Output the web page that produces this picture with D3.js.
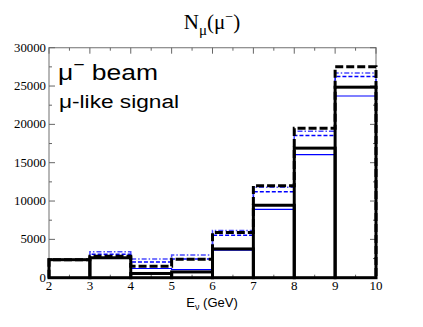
<!DOCTYPE html>
<html>
<head>
<meta charset="utf-8">
<script src="https://cdn.jsdelivr.net/npm/d3@7"></script>
<style>
  body { margin: 0; background: #fff; }
  svg { display: block; }
</style>
</head>
<body>
<div id="chart"></div>
<script>
const binEdges = [2, 3, 4, 5, 6, 7, 8, 9, 10];
const blackBars = [2350, 2600, 550, 750, 3750, 9450, 16900, 24850];
const blackDashed = [2350, 2800, 1500, 2400, 5900, 12000, 19500, 27500];
const blueDashDot = [2350, 3400, 2450, 2950, 6150, 11800, 19100, 26700];
const blueDashed = [2350, 3050, 2050, 2450, 5550, 11200, 18550, 26250];
const blueThin = [2350, 2600, 1200, 1050, 3600, 8900, 16050, 23700];
const xTicks = [2, 3, 4, 5, 6, 7, 8, 9, 10];
const yTicks = [0, 5000, 10000, 15000, 20000, 25000, 30000];

const W = 423, H = 327;
const Margin = { Top: 47.7, Bottom: 49.3, Left: 49, Right: 47 };

const svg = d3.select('#chart').append('svg')
  .attr('width', W)
  .attr('height', H);

const x = d3.scaleLinear().domain([2, 10]).range([Margin.Left, W - Margin.Right]);
const y = d3.scaleLinear().domain([0, 30000]).range([H - Margin.Bottom, Margin.Top]);

// frame + ticks
const frameColor = '#888';
svg.append('rect')
  .attr('x', x(2)).attr('y', y(30000))
  .attr('width', x(10) - x(2)).attr('height', y(0) - y(30000))
  .attr('fill', 'none').attr('stroke', frameColor).attr('stroke-width', 1.2);

const xMinor = d3.range(2.5, 10, 1);
const yMinor = d3.range(2500, 30000, 5000);
const tickG = svg.append('g').attr('stroke', '#666').attr('stroke-width', 1);
xTicks.forEach(t => {
  tickG.append('line').attr('x1', x(t)).attr('x2', x(t)).attr('y1', y(0)).attr('y2', y(0) - 6);
  tickG.append('line').attr('x1', x(t)).attr('x2', x(t)).attr('y1', y(30000)).attr('y2', y(30000) + 6);
});
xMinor.forEach(t => {
  tickG.append('line').attr('x1', x(t)).attr('x2', x(t)).attr('y1', y(0)).attr('y2', y(0) - 3);
  tickG.append('line').attr('x1', x(t)).attr('x2', x(t)).attr('y1', y(30000)).attr('y2', y(30000) + 3);
});
yTicks.forEach(t => {
  tickG.append('line').attr('x1', x(2)).attr('x2', x(2) + 6).attr('y1', y(t)).attr('y2', y(t));
  tickG.append('line').attr('x1', x(10)).attr('x2', x(10) - 6).attr('y1', y(t)).attr('y2', y(t));
});
yMinor.forEach(t => {
  tickG.append('line').attr('x1', x(2)).attr('x2', x(2) + 3).attr('y1', y(t)).attr('y2', y(t));
  tickG.append('line').attr('x1', x(10)).attr('x2', x(10) - 3).attr('y1', y(t)).attr('y2', y(t));
});

// tick labels
const serif = '"Liberation Serif", "DejaVu Serif", serif';
svg.append('g').selectAll('text').data(xTicks).enter().append('text')
  .attr('x', d => x(d)).attr('y', y(0) + 12)
  .attr('text-anchor', 'middle')
  .attr('font-family', serif).attr('font-size', 13)
  .text(d => d);
svg.append('g').selectAll('text').data(yTicks).enter().append('text')
  .attr('x', x(2) - 3).attr('y', d => y(d) + 4)
  .attr('text-anchor', 'end')
  .attr('font-family', serif).attr('font-size', 12)
  .attr('textLength', d => String(d).length * 6.4)
  .attr('lengthAdjust', 'spacingAndGlyphs')
  .text(d => d);

// step paths
function stepPoints(vals) {
  const pts = [[binEdges[0], 0]];
  vals.forEach((v, i) => {
    pts.push([binEdges[i], v]);
    pts.push([binEdges[i + 1], v]);
  });
  pts.push([binEdges[binEdges.length - 1], 0]);
  return pts;
}
const line = d3.line().x(d => x(d[0])).y(d => y(d[1]));

const series = [
  { vals: blueThin, color: '#0000ff', width: 1.2, dash: null },
  { vals: blueDashed, color: '#0000ff', width: 1.5, dash: '4,2' },
  { vals: blueDashDot, color: '#4a4aff', width: 1.5, dash: '5,2,1.5,2' },
  { vals: blackDashed, color: '#000', width: 3, dash: '8,3' }
];
series.forEach(s => {
  svg.append('path')
    .attr('d', line(stepPoints(s.vals)))
    .attr('fill', 'none')
    .attr('stroke', s.color)
    .attr('stroke-width', s.width)
    .attr('stroke-dasharray', s.dash);
});

// black outlined bars
svg.append('g').selectAll('rect').data(blackBars).enter().append('rect')
  .attr('x', (d, i) => x(binEdges[i]))
  .attr('y', d => y(d))
  .attr('width', (d, i) => x(binEdges[i + 1]) - x(binEdges[i]))
  .attr('height', d => y(0) - y(d))
  .attr('fill', 'none')
  .attr('stroke', '#000')
  .attr('stroke-width', 3);

// title
const title = svg.append('text')
  .attr('x', 212).attr('y', 29)
  .attr('text-anchor', 'middle')
  .attr('font-family', serif).attr('font-size', 21);
title.append('tspan').text('N');
title.append('tspan').attr('font-size', 15).attr('dy', 6).text('μ');
title.append('tspan').attr('dy', -6).text('(μ');
title.append('tspan').attr('font-size', 14).attr('dy', -8).text('−');
title.append('tspan').attr('dy', 8).text(')');

// legend text
const sans = '"Liberation Sans", Arial, sans-serif';
const beam = svg.append('text')
  .attr('x', 58).attr('y', 80)
  .attr('font-family', sans).attr('font-size', 22)
  .attr('textLength', 100).attr('lengthAdjust', 'spacingAndGlyphs');
beam.append('tspan').text('μ');
beam.append('tspan').attr('font-size', 16).attr('dy', -10).text('−');
beam.append('tspan').attr('dy', 10).text(' beam');

svg.append('text')
  .attr('x', 59).attr('y', 108)
  .attr('font-family', sans).attr('font-size', 18)
  .attr('textLength', 120).attr('lengthAdjust', 'spacingAndGlyphs')
  .text('μ-like signal');

// x axis title
const xt = svg.append('text')
  .attr('x', 212).attr('y', 307)
  .attr('text-anchor', 'middle')
  .attr('font-family', sans).attr('font-size', 13);
xt.append('tspan').text('E');
xt.append('tspan').attr('font-size', 9).attr('dy', 3).text('ν');
xt.append('tspan').attr('dy', -3).text(' (GeV)');
</script>
</body>
</html>
